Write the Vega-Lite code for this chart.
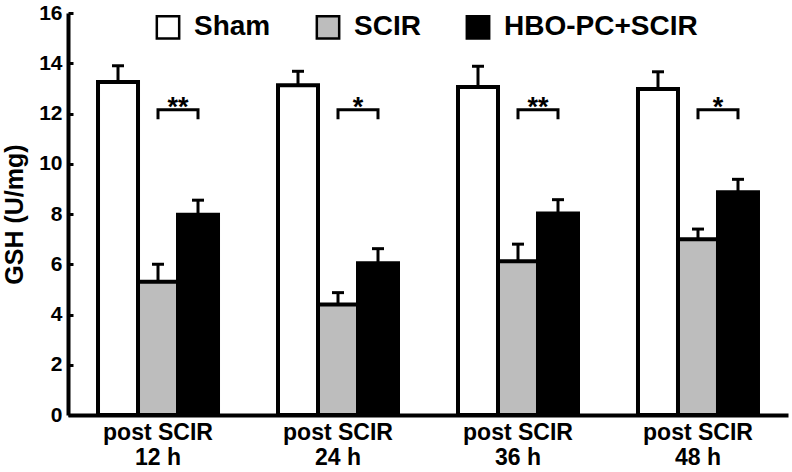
{
  "$schema": "https://vega.github.io/schema/vega-lite/v6.json",
  "width": 720,
  "height": 402,
  "autosize": {"type": "none"},
  "padding": {"left": 68, "top": 13, "right": 4, "bottom": 57},
  "background": "white",
  "config": {
    "view": {"stroke": null},
    "font": "Liberation Sans",
    "axis": {"grid": false, "domainColor": "black", "tickColor": "black", "labelColor": "black", "titleColor": "black"}
  },
  "datasets": {
    "bars": [
      {"group": "post SCIR|12 h", "series": "Sham", "value": 13.25, "err": 13.9},
      {"group": "post SCIR|12 h", "series": "SCIR", "value": 5.3, "err": 6.0},
      {"group": "post SCIR|12 h", "series": "HBO-PC+SCIR", "value": 7.97, "err": 8.55},
      {"group": "post SCIR|24 h", "series": "Sham", "value": 13.12, "err": 13.68},
      {"group": "post SCIR|24 h", "series": "SCIR", "value": 4.4, "err": 4.87},
      {"group": "post SCIR|24 h", "series": "HBO-PC+SCIR", "value": 6.04, "err": 6.62},
      {"group": "post SCIR|36 h", "series": "Sham", "value": 13.05, "err": 13.88},
      {"group": "post SCIR|36 h", "series": "SCIR", "value": 6.12, "err": 6.8},
      {"group": "post SCIR|36 h", "series": "HBO-PC+SCIR", "value": 8.02, "err": 8.57},
      {"group": "post SCIR|48 h", "series": "Sham", "value": 12.98, "err": 13.66},
      {"group": "post SCIR|48 h", "series": "SCIR", "value": 7.0, "err": 7.4},
      {"group": "post SCIR|48 h", "series": "HBO-PC+SCIR", "value": 8.87, "err": 9.38}
    ],
    "brackets": [
      {"group": "post SCIR|12 h", "series": "SCIR", "y": 11.83, "ord": 1},
      {"group": "post SCIR|12 h", "series": "SCIR", "y": 12.15, "ord": 2},
      {"group": "post SCIR|12 h", "series": "HBO-PC+SCIR", "y": 12.15, "ord": 3},
      {"group": "post SCIR|12 h", "series": "HBO-PC+SCIR", "y": 11.83, "ord": 4},
      {"group": "post SCIR|24 h", "series": "SCIR", "y": 11.83, "ord": 1},
      {"group": "post SCIR|24 h", "series": "SCIR", "y": 12.15, "ord": 2},
      {"group": "post SCIR|24 h", "series": "HBO-PC+SCIR", "y": 12.15, "ord": 3},
      {"group": "post SCIR|24 h", "series": "HBO-PC+SCIR", "y": 11.83, "ord": 4},
      {"group": "post SCIR|36 h", "series": "SCIR", "y": 11.83, "ord": 1},
      {"group": "post SCIR|36 h", "series": "SCIR", "y": 12.15, "ord": 2},
      {"group": "post SCIR|36 h", "series": "HBO-PC+SCIR", "y": 12.15, "ord": 3},
      {"group": "post SCIR|36 h", "series": "HBO-PC+SCIR", "y": 11.83, "ord": 4},
      {"group": "post SCIR|48 h", "series": "SCIR", "y": 11.83, "ord": 1},
      {"group": "post SCIR|48 h", "series": "SCIR", "y": 12.15, "ord": 2},
      {"group": "post SCIR|48 h", "series": "HBO-PC+SCIR", "y": 12.15, "ord": 3},
      {"group": "post SCIR|48 h", "series": "HBO-PC+SCIR", "y": 11.83, "ord": 4}
    ],
    "stars": [
      {"group": "post SCIR|12 h", "series": "SCIR", "y": 11.9, "label": "**"},
      {"group": "post SCIR|24 h", "series": "SCIR", "y": 11.9, "label": "*"},
      {"group": "post SCIR|36 h", "series": "SCIR", "y": 11.9, "label": "**"},
      {"group": "post SCIR|48 h", "series": "SCIR", "y": 11.9, "label": "*"}
    ]
  },
  "encoding": {
    "x": {
      "field": "group", "type": "nominal", "sort": null,
      "scale": {"paddingInner": 0.3333, "paddingOuter": 0.1667},
      "axis": {
        "title": null, "labelAngle": 0, "ticks": false, "domainWidth": 4,
        "labelExpr": "split(datum.value, '|')",
        "labelFontSize": 23, "labelFontWeight": "bold", "labelLineHeight": 25,
        "labelPadding": 6, "labelBaseline": "top"
      }
    },
    "xOffset": {
      "field": "series", "type": "nominal",
      "scale": {"domain": ["Sham", "SCIR", "HBO-PC+SCIR"], "paddingInner": 0, "paddingOuter": 0}
    }
  },
  "layer": [
    {
      "data": {"name": "bars"},
      "mark": {"type": "bar", "stroke": "black", "strokeWidth": 4},
      "encoding": {
        "y": {
          "field": "value", "type": "quantitative",
          "scale": {"domain": [0, 16], "nice": false},
          "axis": {
            "title": "GSH (U/mg)", "values": [0, 2, 4, 6, 8, 10, 12, 14, 16],
            "domainWidth": 4, "tickSize": -5, "tickWidth": 3,
            "labelFontSize": 21, "labelFontWeight": "bold", "labelPadding": 11,
            "titleFontSize": 25, "titleFontWeight": "bold", "titlePadding": 11
          }
        },
        "color": {
          "field": "series", "type": "nominal",
          "scale": {"domain": ["Sham", "SCIR", "HBO-PC+SCIR"], "range": ["white", "#bdbdbd", "black"]},
          "legend": {
            "title": null, "orient": "none", "direction": "horizontal",
            "legendX": 86, "legendY": 0,
            "symbolType": "square", "symbolSize": 500, "symbolStrokeColor": "black",
            "symbolStrokeWidth": 2.5, "symbolOpacity": 1,
            "labelFontSize": 28, "labelFontWeight": "bold", "labelColor": "black",
            "labelOffset": 12, "columnPadding": 40, "labelLimit": 400
          }
        }
      }
    },
    {
      "data": {"name": "bars"},
      "mark": {"type": "rule", "color": "black", "strokeWidth": 3},
      "encoding": {
        "y": {"field": "value", "type": "quantitative"},
        "y2": {"field": "err"}
      }
    },
    {
      "data": {"name": "bars"},
      "mark": {"type": "tick", "color": "black", "size": 12, "thickness": 3, "opacity": 1},
      "encoding": {
        "y": {"field": "err", "type": "quantitative"}
      }
    },
    {
      "data": {"name": "brackets"},
      "mark": {"type": "line", "color": "black", "strokeWidth": 3, "strokeCap": "square"},
      "encoding": {
        "y": {"field": "y", "type": "quantitative"},
        "detail": {"field": "group"},
        "order": {"field": "ord"}
      }
    },
    {
      "data": {"name": "stars"},
      "mark": {"type": "text", "dx": 20, "fontSize": 27, "fontWeight": "bold", "baseline": "alphabetic", "color": "black"},
      "encoding": {
        "y": {"field": "y", "type": "quantitative"},
        "text": {"field": "label"}
      }
    }
  ]
}
